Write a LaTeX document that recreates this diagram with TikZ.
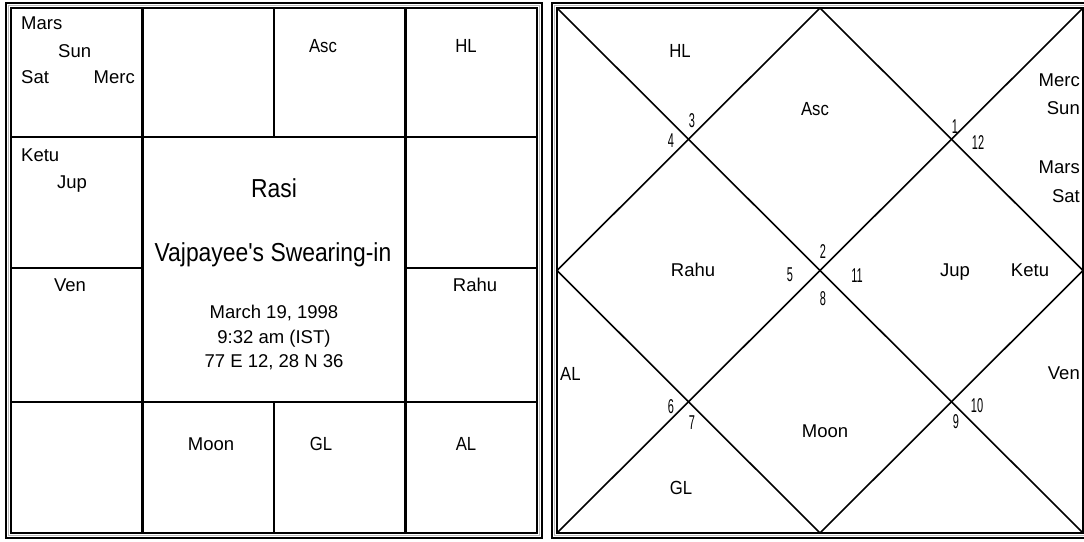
\documentclass[tikz,border=0pt]{standalone}
\usepackage{fontspec}
\setmainfont{Liberation Sans}
\newfontfamily\condf[FakeStretch=0.88]{Liberation Sans}
\newfontfamily\numf[FakeStretch=0.55]{Liberation Sans}
\begin{document}
\begin{tikzpicture}[x=1pt,y=-1pt,
  txt/.style={inner sep=0pt, font=\fontsize{18.5}{18.5}\selectfont},
  ctxt/.style={inner sep=0pt, font=\condf\fontsize{19}{19}\selectfont},
  bigtxt/.style={inner sep=0pt, font=\condf\fontsize{26}{26}\selectfont},
  datetxt/.style={inner sep=0pt, font=\fontsize{18.5}{18.5}\selectfont},
  num/.style={inner sep=0pt, font=\numf\fontsize{20}{20}\selectfont},
  gridline/.style={line width=2.2pt},
  diag/.style={line width=1.6pt},
  frameblack/.style={line width=2pt},
  framegrey/.style={line width=1.2pt, gray!55}]
\useasboundingbox (0,0) rectangle (1084,541);
\clip (0,0) rectangle (1084,541);
\fill[white] (0,0) rectangle (1084,541);

% ---------- left chart (south-Indian style) ----------
\draw[frameblack] (6,3) rectangle (542,538);
\draw[framegrey] (8.5,5.5) rectangle (539.5,535.5);
\draw[frameblack] (11,8) rectangle (537,533);

\coordinate (L1t) at (142.5,8);   \coordinate (L1b) at (142.5,533);
\coordinate (L2t) at (274,8);     \coordinate (L2m) at (274,137);
\coordinate (L2n) at (274,402);   \coordinate (L2b) at (274,533);
\coordinate (L3t) at (405.5,8);   \coordinate (L3b) at (405.5,533);
\coordinate (H1l) at (11,137);    \coordinate (H1r) at (537,137);
\coordinate (H2l) at (11,268);    \coordinate (H2a) at (142.5,268);
\coordinate (H2b) at (405.5,268); \coordinate (H2r) at (537,268);
\coordinate (H3l) at (11,402);    \coordinate (H3r) at (537,402);

\draw[gridline] (L1t) -- (L1b);
\draw[gridline] (L3t) -- (L3b);
\draw[gridline] (L2t) -- (L2m);
\draw[gridline] (L2n) -- (L2b);
\draw[gridline] (H1l) -- (H1r);
\draw[gridline] (H3l) -- (H3r);
\draw[gridline] (H2l) -- (H2a);
\draw[gridline] (H2b) -- (H2r);

\node[txt, anchor=base west] (lmars) at (21,29) {Mars};
\node[txt, anchor=base west] (lsun) at (58,57) {Sun};
\node[txt, anchor=base west] (lsat) at (21,83) {Sat};
\node[txt, anchor=base east] (lmerc) at (135,83) {Merc};
\node[ctxt, anchor=base] (lasc) at (323,52) {Asc};
\node[ctxt, anchor=base] (lhl) at (466,52) {HL};
\node[txt, anchor=base west] (lketu) at (21,161) {Ketu};
\node[txt, anchor=base west] (ljup) at (57,188) {Jup};
\node[txt, anchor=base] (lven) at (70,291) {Ven};
\node[txt, anchor=base] (lrahu) at (475,291) {Rahu};
\node[txt, anchor=base] (lmoon) at (211,450) {Moon};
\node[ctxt, anchor=base] (lgl) at (321,450) {GL};
\node[ctxt, anchor=base] (lal) at (466,450) {AL};

\node[bigtxt, anchor=base] (rasi) at (274,197) {Rasi};
\node[bigtxt, anchor=base] (event) at (273,261) {Vajpayee's Swearing-in};
\node[datetxt, anchor=base] (date) at (274,318) {March 19, 1998};
\node[datetxt, anchor=base] (time) at (274,343) {9:32 am (IST)};
\node[datetxt, anchor=base] (place) at (274,367) {77 E 12, 28 N 36};

% ---------- right chart (north-Indian style) ----------
\draw[frameblack] (552,3) rectangle (1088,538);
\draw[framegrey] (554.5,5.5) rectangle (1085.5,535.5);
\draw[frameblack] (557,8) rectangle (1083,533);

\coordinate (tl) at (557,8);     \coordinate (tr) at (1083,8);
\coordinate (bl) at (557,533);   \coordinate (br) at (1083,533);
\coordinate (tm) at (820,8);     \coordinate (rm) at (1083,270.5);
\coordinate (bm) at (820,533);   \coordinate (lm) at (557,270.5);

\draw[diag] (tl) -- (br);
\draw[diag] (tr) -- (bl);
\draw[diag] (tm) -- (rm) -- (bm) -- (lm) -- cycle;

\node[ctxt, anchor=base] (rhl) at (680,57) {HL};
\node[ctxt, anchor=base] (rasc) at (815,115) {Asc};
\node[txt, anchor=base east] (rmerc) at (1080,86) {Merc};
\node[txt, anchor=base east] (rsun) at (1080,114) {Sun};
\node[txt, anchor=base east] (rmars) at (1080,173) {Mars};
\node[txt, anchor=base east] (rsat) at (1080,202) {Sat};
\node[txt, anchor=base] (rrahu) at (693,276) {Rahu};
\node[txt, anchor=base] (rjup) at (955,276) {Jup};
\node[txt, anchor=base] (rketu) at (1030,276) {Ketu};
\node[ctxt, anchor=base west] (ral) at (560,380) {AL};
\node[txt, anchor=base east] (rven) at (1080,379) {Ven};
\node[txt, anchor=base] (rmoon) at (825,437) {Moon};
\node[ctxt, anchor=base] (rgl) at (681,494) {GL};

\node[num] (n3) at (692,121) {3};
\node[num] (n4) at (671,141) {4};
\node[num] (n1) at (955,127) {1};
\node[num] (n12) at (978,143) {12};
\node[num] (n2) at (823,252) {2};
\node[num] (n5) at (790,275) {5};
\node[num] (n11) at (857,276) {11};
\node[num] (n8) at (823,299) {8};
\node[num] (n6) at (671,407) {6};
\node[num] (n7) at (692,423) {7};
\node[num] (n10) at (977,406) {10};
\node[num] (n9) at (956,422) {9};
\end{tikzpicture}
\end{document}
